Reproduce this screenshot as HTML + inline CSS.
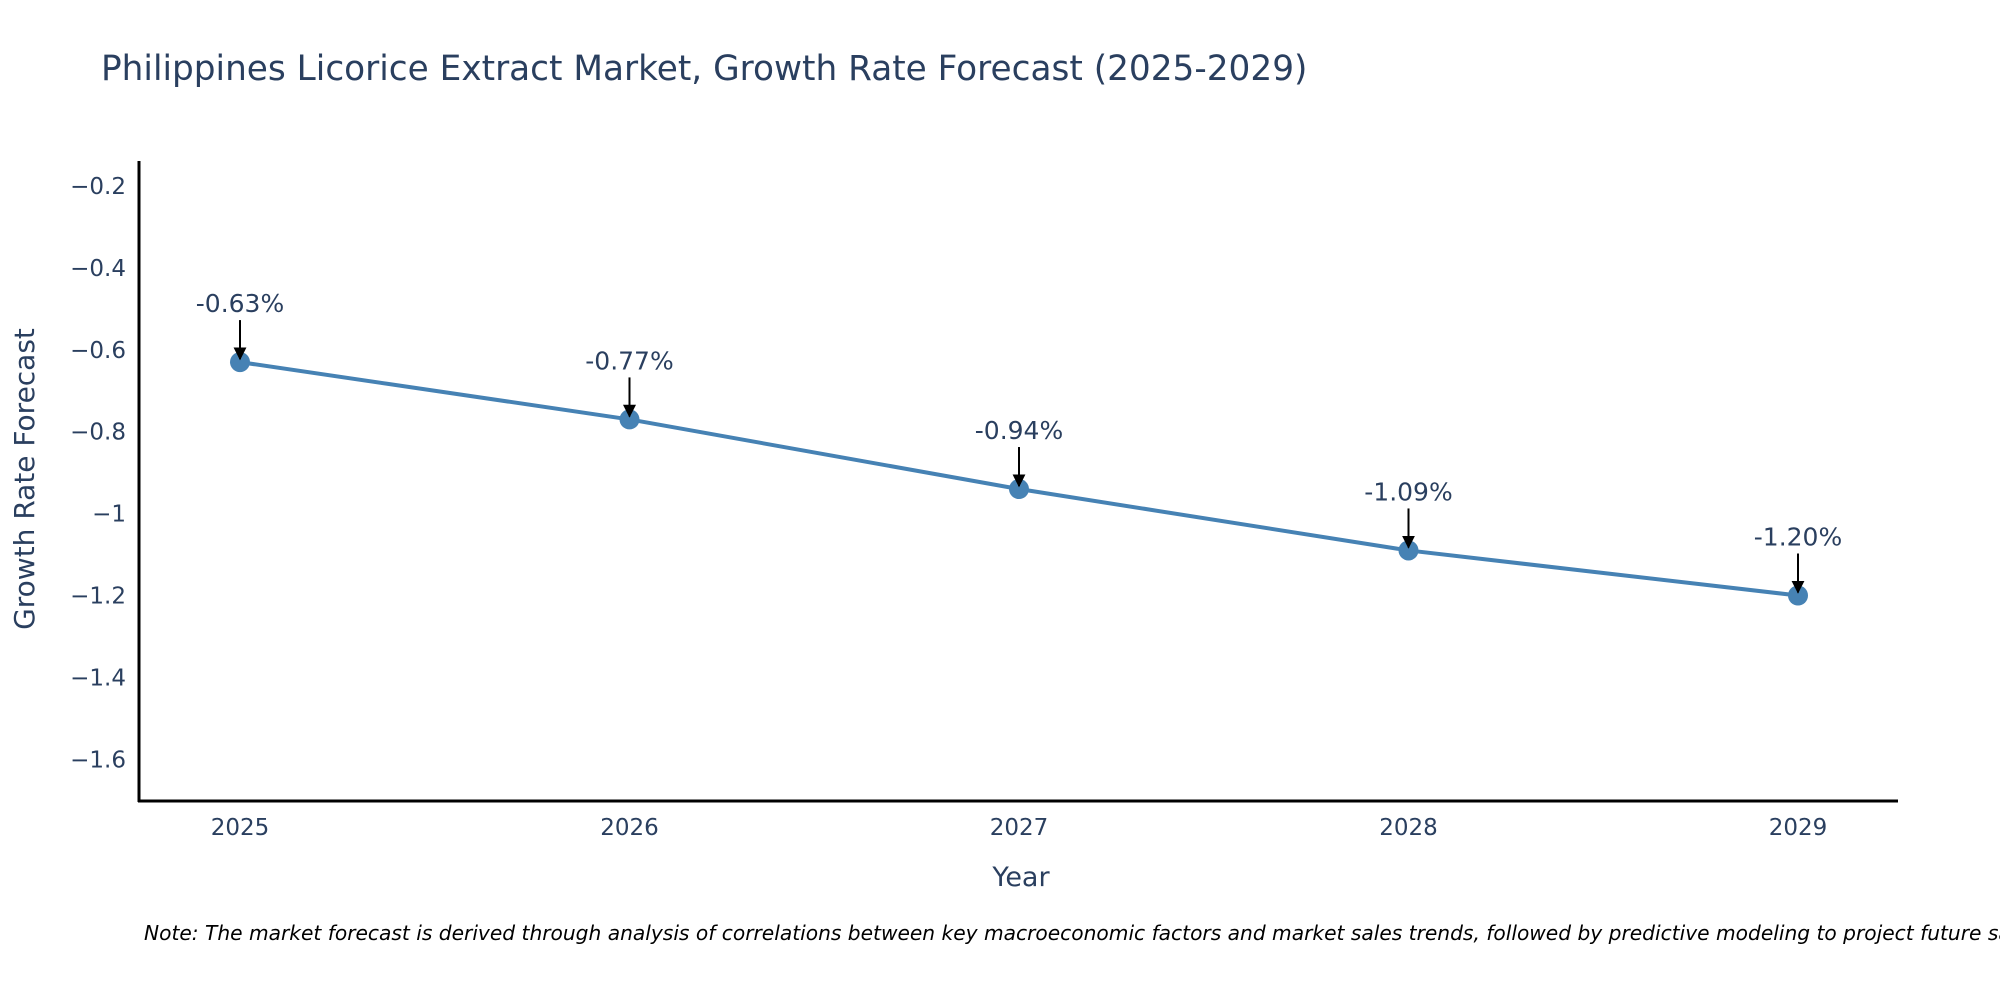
<!DOCTYPE html>
<html><head><meta charset="utf-8"><style>
body{margin:0;background:#fff;}
svg text{font-family:"DejaVu Sans","Liberation Sans",sans-serif;}
</style></head><body>
<svg id="chart" width="2000" height="1000" xmlns="http://www.w3.org/2000/svg">
<defs><marker id="ah" viewBox="0 0 10 10" refX="9" refY="5" markerWidth="13" markerHeight="13" markerUnits="userSpaceOnUse" orient="auto"><path d="M0,0 L10,5 L0,10 z" fill="#000"/></marker></defs>
<text x="101" y="80" font-size="34.3" fill="#2a3f5f">Philippines Licorice Extract Market, Growth Rate Forecast (2025-2029)</text>
<g id="yticks"></g><g id="xticks"></g><g id="series"></g><g id="annots"></g>
<line x1="139" y1="161" x2="139" y2="802" stroke="#000" stroke-width="3"/>
<line x1="138" y1="801" x2="1898" y2="801" stroke="#000" stroke-width="3"/>
<text transform="translate(34,479) rotate(-90)" text-anchor="middle" font-size="28" fill="#2a3f5f">Growth Rate Forecast</text>
<text x="1021" y="886" text-anchor="middle" font-size="27" fill="#2a3f5f">Year</text>
<text x="144" y="940" font-size="20.2" font-style="italic" fill="#000">Note: The market forecast is derived through analysis of correlations between key macroeconomic factors and market sales trends, followed by predictive modeling to project future sales.</text>
</svg>
<script>
const years = ['2025','2026','2027','2028','2029'];
const growth = [-0.63,-0.77,-0.94,-1.09,-1.20];
const labels = ['-0.63%','-0.77%','-0.94%','-1.09%','-1.20%'];
const yTicks = [-0.2,-0.4,-0.6,-0.8,-1,-1.2,-1.4,-1.6];
const NS='http://www.w3.org/2000/svg';
const xScale=i=>240+i*(1798-240)/(years.length-1);
const yScale=v=>186+(-0.2-v)*(409.5);
function mk(tag,attrs,parent,text){const e=document.createElementNS(NS,tag);for(const k in attrs)e.setAttribute(k,attrs[k]);if(text!==undefined)e.textContent=text;parent.appendChild(e);return e;}
const yg=document.getElementById('yticks');
yTicks.forEach(v=>{const t=mk('text',{x:126,y:yScale(v)+8,'text-anchor':'end','font-size':23,fill:'#2a3f5f'},yg,String(v).replace('-','\u2212'));

});
const xg=document.getElementById('xticks');
years.forEach((y,i)=>{const t=mk('text',{x:xScale(i),y:835,'text-anchor':'middle','font-size':23,fill:'#2a3f5f'},xg,y);

});
const sg=document.getElementById('series');
const pts=growth.map((v,i)=>xScale(i)+','+yScale(v)).join(' ');
const pl=mk('polyline',{points:pts,fill:'none',stroke:'#4682b4','stroke-width':4},sg);


const ag=document.getElementById('annots');
growth.forEach((v,i)=>{const c=mk('circle',{cx:xScale(i),cy:yScale(v),r:10,fill:'#4682b4'},sg);


const x=xScale(i),y=yScale(v);
const a=mk('line',{x1:x,y1:y-42,x2:x,y2:y-3,stroke:'#000','stroke-width':2,'marker-end':'url(#ah)'},ag);


const t=mk('text',{x:x,y:y-50,'text-anchor':'middle','font-size':25,fill:'#2a3f5f'},ag,labels[i]);

});
</script>
</body></html>
